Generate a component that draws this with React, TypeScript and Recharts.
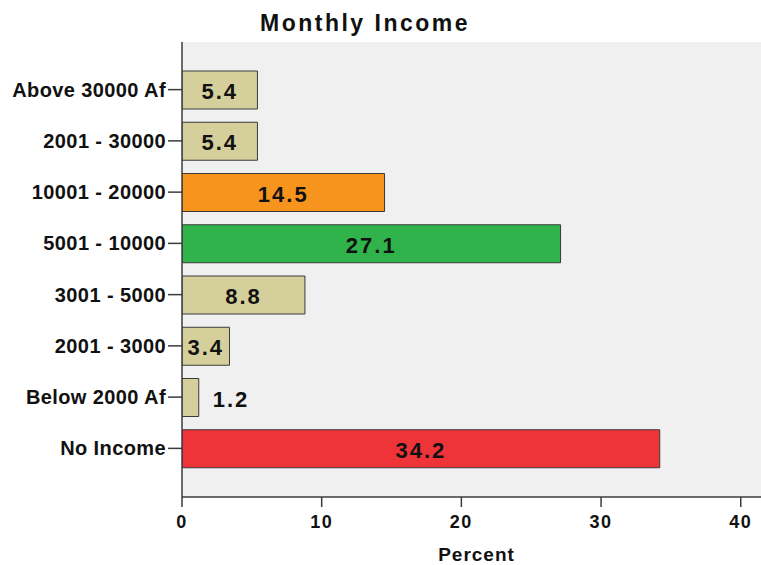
import { BarChart, Bar, XAxis, YAxis, CartesianGrid, Cell, LabelList } from "recharts";

const categories = [
  "Above 30000 Af",
  "2001 - 30000",
  "10001 - 20000",
  "5001 - 10000",
  "3001 - 5000",
  "2001 - 3000",
  "Below 2000 Af",
  "No Income",
];
const percents = [5.4, 5.4, 14.5, 27.1, 8.8, 3.4, 1.2, 34.2];
const xTicks = [0, 10, 20, 30, 40];

const TAN = "#D5CF9C";
const barColors = [TAN, TAN, "#F7941E", "#2FB34A", TAN, TAN, TAN, "#EE3339"];

const FONT = '"Liberation Sans", Arial, sans-serif';
const AXIS = "#3c3c3c";

const data = categories.map((category, i) => ({ category, percent: percents[i] }));

function ValueLabel(props: any) {
  const { x, y, width, height, value } = props;
  const outside = width < 25;
  return (
    <text
      x={outside ? x + width + 14 : x + width / 2}
      y={y + height / 2 + 9}
      textAnchor={outside ? "start" : "middle"}
      fontFamily={FONT}
      fontWeight="bold"
      fontSize={22}
      letterSpacing={2}
      fill="#111"
    >
      {Number(value).toFixed(1)}
    </text>
  );
}

export default function App() {
  return (
    <div style={{ position: "absolute", left: 0, top: 0, width: 761, height: 565, background: "#fff" }}>
      <div
        style={{
          position: "absolute",
          left: 65,
          top: 12,
          width: 600,
          textAlign: "center",
          fontFamily: FONT,
          fontWeight: "bold",
          fontSize: 23,
          lineHeight: "23px",
          letterSpacing: 2.5,
          color: "#111",
        }}
      >
        Monthly Income
      </div>
      <BarChart
        width={761}
        height={565}
        data={data}
        layout="vertical"
        margin={{ top: 42, right: 0, bottom: 0, left: 0 }}
      >
        <CartesianGrid fill="#F0F0F0" stroke="none" horizontal={false} vertical={false} />
        <XAxis
          type="number"
          domain={[0, 41.45]}
          ticks={xTicks}
          allowDataOverflow
          height={68}
          tickSize={10}
          tickMargin={8}
          axisLine={{ stroke: AXIS, strokeWidth: 1.5 }}
          tickLine={{ stroke: AXIS, strokeWidth: 1.5 }}
          tick={{ fontFamily: FONT, fontWeight: "bold", fontSize: 18, fill: "#111", letterSpacing: 1.5 }}
          label={{
            value: "Percent",
            position: "insideBottom",
            offset: 4,
            dx: 5,
            fontFamily: FONT,
            fontWeight: "bold",
            fontSize: 19,
            letterSpacing: 1,
            fill: "#111",
          }}
        />
        <XAxis
          xAxisId="top"
          orientation="top"
          type="number"
          domain={[0, 41.45]}
          height={0}
          tick={false}
          tickLine={false}
          axisLine={{ stroke: AXIS, strokeWidth: 1.5 }}
        />
        <YAxis
          type="category"
          dataKey="category"
          width={182}
          interval={0}
          tickSize={14}
          tickMargin={2}
          padding={{ top: 22, bottom: 23 }}
          axisLine={{ stroke: AXIS, strokeWidth: 1.5 }}
          tickLine={{ stroke: AXIS, strokeWidth: 1.5 }}
          tick={{ fontFamily: FONT, fontWeight: "bold", fontSize: 20, fill: "#111", letterSpacing: 0.4 }}
        />
        <Bar dataKey="percent" barSize={38} stroke="#3a3a3a" strokeWidth={1} isAnimationActive={false}>
          {data.map((d, i) => (
            <Cell key={d.category} fill={barColors[i]} />
          ))}
          <LabelList dataKey="percent" content={ValueLabel} />
        </Bar>
      </BarChart>
    </div>
  );
}
